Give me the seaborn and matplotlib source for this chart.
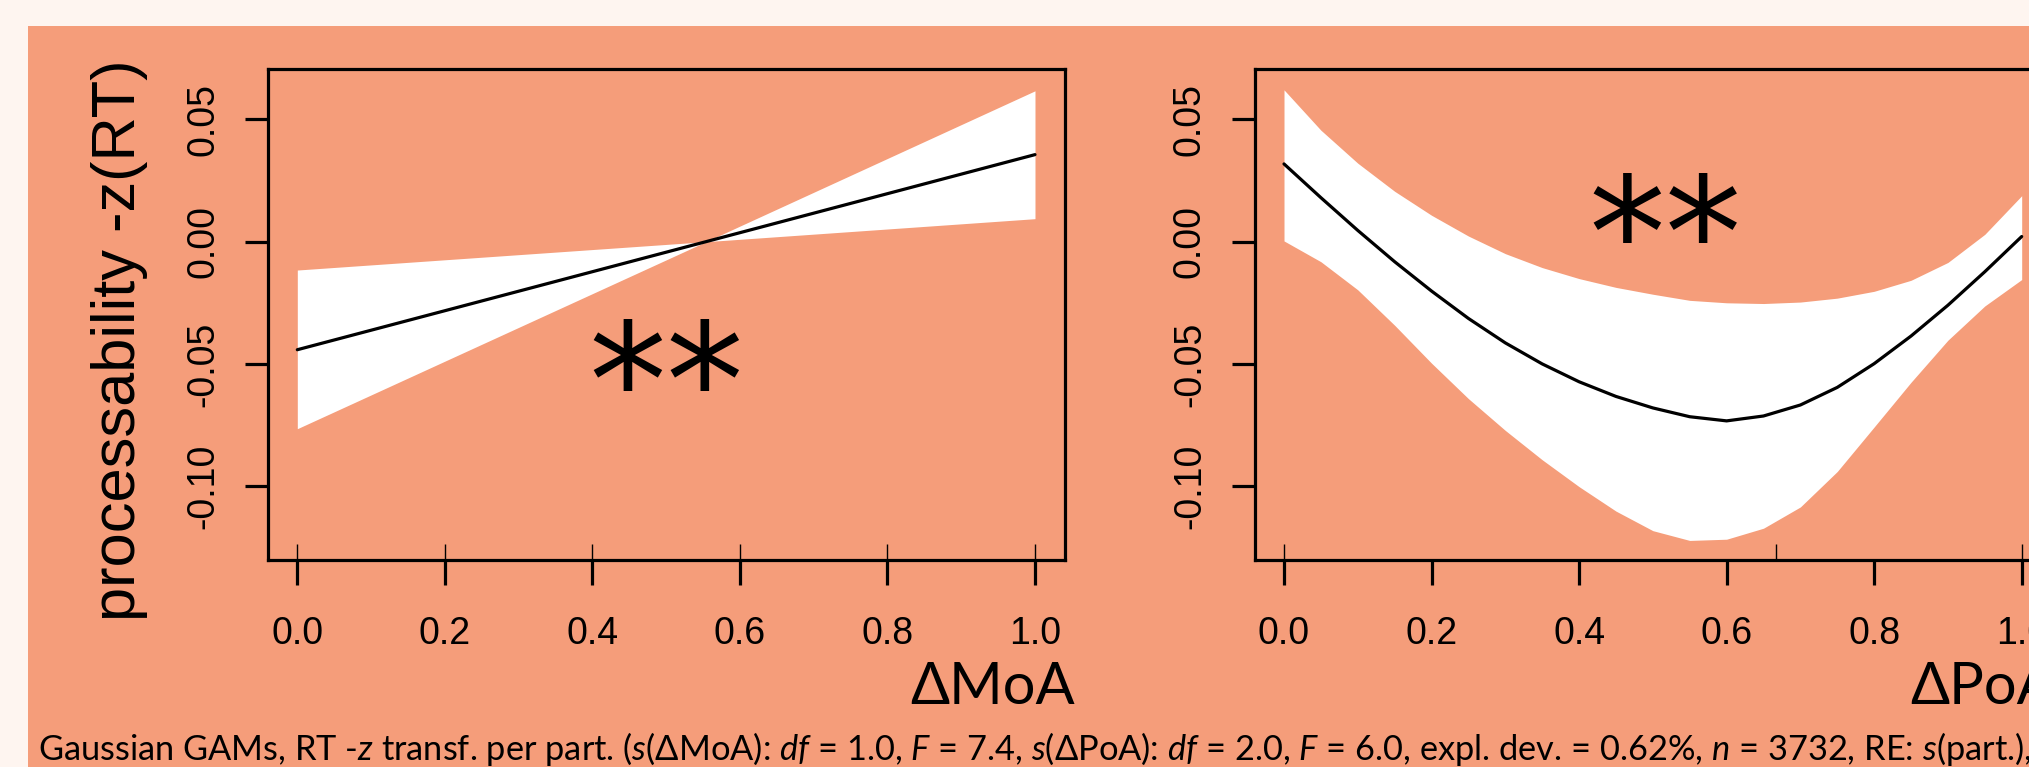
import matplotlib
matplotlib.use("Agg")
import matplotlib.pyplot as plt
import seaborn as sns
from matplotlib.patches import Rectangle
from matplotlib.textpath import TextPath
from matplotlib.font_manager import FontProperties

# ---------------- data ----------------
# Left panel: s(ΔMoA), linear smooth with pointwise band
moa_x = [0.0, 0.554, 1.0]
moa_fit = [-0.0442, 0.0, 0.0356]
moa_upper = [-0.0116, 0.0, 0.0617]
moa_lower = [-0.0765, 0.0, 0.0094]
moa_rug = [0.0, 0.2, 0.4, 0.6, 0.8, 1.0]

# Right panel: s(ΔPoA)
poa_x = [0.00, 0.05, 0.10, 0.15, 0.20, 0.25, 0.30, 0.35, 0.40, 0.45, 0.50,
         0.55, 0.60, 0.65, 0.70, 0.75, 0.80, 0.85, 0.90, 0.95, 1.00]
poa_fit = [0.0318, 0.0180, 0.0046, -0.0082, -0.0202, -0.0314, -0.0414, -0.0500,
           -0.0573, -0.0633, -0.0680, -0.0716, -0.0733, -0.0713, -0.0668, -0.0596,
           -0.0499, -0.0386, -0.0260, -0.0123, 0.0021]
poa_upper = [0.0621, 0.0456, 0.0321, 0.0206, 0.0108, 0.0023, -0.0049, -0.0106,
             -0.0151, -0.0187, -0.0215, -0.0240, -0.0250, -0.0253, -0.0247, -0.0231,
             -0.0203, -0.0158, -0.0085, 0.0030, 0.0188]
poa_lower = [0.0003, -0.0082, -0.0197, -0.0342, -0.0497, -0.0642, -0.0772, -0.0892,
             -0.1002, -0.1102, -0.1182, -0.1222, -0.1217, -0.1172, -0.1085, -0.0940,
             -0.0758, -0.0575, -0.0403, -0.0263, -0.0155]
poa_rug = [0.0, 0.667, 1.0]

x_ticks = [0.0, 0.2, 0.4, 0.6, 0.8, 1.0]
x_tick_labels = ["0.0", "0.2", "0.4", "0.6", "0.8", "1.0"]
y_ticks = [-0.10, -0.05, 0.00, 0.05]
y_tick_labels = ["-0.10", "-0.05", "0.00", "0.05"]

y_label = "processability -z(RT)"
x_labels = ["\u0394MoA", "\u0394PoA"]
signif = ["**", "**"]
caption = ("Gaussian GAMs, RT -$z$ transf. per part. ($s$(\u0394MoA): $df$ = 1.0, "
           "$F$ = 7.4, $s$(\u0394PoA): $df$ = 2.0, $F$ = 6.0, expl. dev. = 0.62%, "
           "$n$ = 3732, RE: $s$(part.),")

# ---------------- style ----------------
W, H, DPI = 2029, 767, 100
LIGHT = "#FEF5F0"
SALMON = "#F59D7A"

sns.set_theme(style="ticks")
plt.rcParams["font.family"] = ["Liberation Sans", "DejaVu Sans"]
plt.rcParams["mathtext.fontset"] = "custom"
plt.rcParams["mathtext.rm"] = "Lato"
plt.rcParams["mathtext.it"] = "Lato:italic"

fig = plt.figure(figsize=(W / DPI, H / DPI), dpi=DPI, facecolor=LIGHT)
fig.patches.append(Rectangle((28 / W, 0), 1 - 28 / W, 1 - 26 / H,
                             transform=fig.transFigure, facecolor=SALMON,
                             edgecolor="none", zorder=-5))


def px_axes(left, top, width, height):
    return fig.add_axes([left / W, 1 - (top + height) / H, width / W, height / H])


def fx(x):
    return x / W


def fy(y):
    return 1 - y / H


AX_W, AX_H, AX_TOP = 796.7, 490.7, 69.3
axes = [px_axes(267.8, AX_TOP, AX_W, AX_H), px_axes(1254.5, AX_TOP, AX_W, AX_H)]
panels = [(moa_x, moa_fit, moa_upper, moa_lower, moa_rug),
          (poa_x, poa_fit, poa_upper, poa_lower, poa_rug)]

for ax, (xs, fit, up, lo, rug) in zip(axes, panels):
    ax.set_facecolor("none")
    ax.set_zorder(1)
    ax.fill_between(xs, lo, up, color="white", lw=0, zorder=1)
    sns.lineplot(x=xs, y=fit, ax=ax, color="black", lw=2.3, zorder=3,
                 estimator=None, sort=False)
    sns.rugplot(x=rug, ax=ax, height=16 / AX_H, color="black", lw=2.3,
                expand_margins=False, zorder=4)
    ax.set_xlim(-0.04, 1.04)
    ax.set_ylim(-0.1302, 0.0705)
    ax.set_xticks(x_ticks)
    ax.set_xticklabels(x_tick_labels)
    ax.set_yticks(y_ticks)
    ax.set_yticklabels(y_tick_labels)
    for s in ax.spines.values():
        s.set_visible(True)
        s.set_linewidth(2.3)
        s.set_color("black")
    ax.tick_params(axis="x", direction="out", length=18, width=2.3,
                   labelsize=27, pad=22, colors="black")
    ax.tick_params(axis="y", direction="out", length=16.5, width=2.3,
                   labelsize=27, pad=17, colors="black")
    for lab in ax.get_yticklabels():
        lab.set_rotation(90)
        lab.set_va("center")
    ax.set_xlabel("")
    ax.set_ylabel("")

renderer = fig.canvas.get_renderer()


def fit_size(txt, target_px, along="w"):
    bb = txt.get_window_extent(renderer)
    cur = bb.width if along == "w" else bb.height
    txt.set_fontsize(txt.get_fontsize() * target_px / cur)


# y label
yl = fig.text(fx(120), fy(340), y_label, rotation=90, ha="center", va="center",
              fontsize=42, color="black", zorder=10)
fit_size(yl, 562, along="h")

# x labels (Calibri-like)
for lab, left in zip(x_labels, [910, 1910]):
    t = fig.text(fx(left), fy(704), lab, ha="left", va="baseline",
                 fontsize=40, family=["Lato", "DejaVu Sans"], color="black",
                 zorder=10)
    if lab == x_labels[0]:
        fit_size(t, 165)
        xl_size = t.get_fontsize()
    else:
        t.set_fontsize(xl_size)

# significance stars, positioned by their ink box
star_prop = FontProperties(family="DejaVu Sans")
tp = TextPath((0, 0), "**", size=100, prop=star_prop)
ext = tp.get_extents()
star_targets = [(593, 320, 391), (1593, 173, 243)]  # left, top, bottom (px)
for s, (left, top, bottom) in zip(signif, star_targets):
    fs = (bottom - top) / (ext.height / 100 * DPI / 72)
    k = fs / 100 * DPI / 72
    x0 = left - ext.x0 * k
    base = bottom + ext.y0 * k
    fig.text(fx(x0), fy(base), s, ha="left", va="baseline", fontsize=fs,
             family="DejaVu Sans", color="black", zorder=10)

# caption
cap = fig.text(fx(38), fy(760), caption, ha="left", va="baseline", fontsize=20,
               family=["Lato", "DejaVu Sans"], color="black", zorder=10)
fit_size(cap, 1990)

fig.savefig("out.png", dpi=DPI, facecolor=LIGHT)
